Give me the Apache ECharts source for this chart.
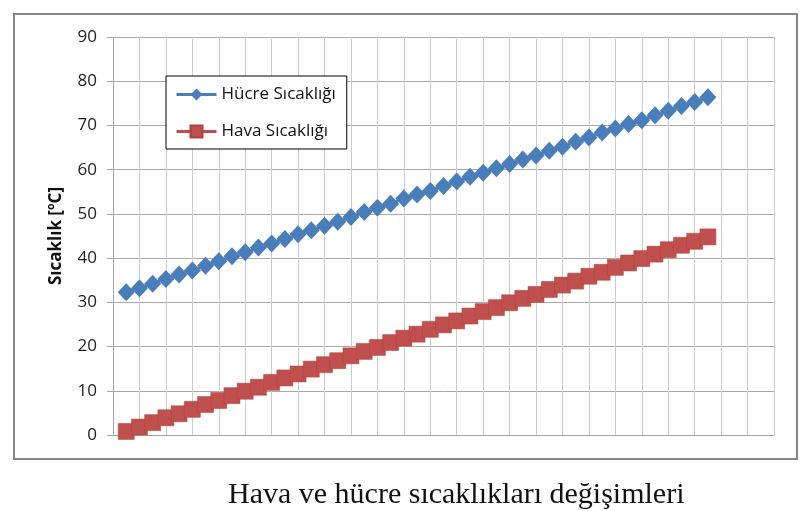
<!DOCTYPE html>
<html>
<head>
<meta charset="utf-8">
<script src="https://cdn.jsdelivr.net/npm/echarts@6/dist/echarts.min.js"></script>
<style>
  html, body { margin: 0; padding: 0; background: #fff; }
  #chart { width: 812px; height: 511px; }
</style>
</head>
<body>
<div id="chart"></div>
<script>
  // x positions of the readings (steps along the horizontal axis, 0..50)
  var steps = [1, 2, 3, 4, 5, 6, 7, 8, 9, 10, 11, 12, 13, 14, 15, 16, 17, 18, 19, 20,
    21, 22, 23, 24, 25, 26, 27, 28, 29, 30, 31, 32, 33, 34, 35, 36, 37, 38, 39, 40,
    41, 42, 43, 44, 45];

  // Hücre Sıcaklığı [°C]
  var hucre = [32.3, 33.2, 34.2, 35.3, 36.3, 37.2, 38.3, 39.3, 40.4, 41.3,
    42.4, 43.3, 44.3, 45.4, 46.3, 47.3, 48.2, 49.3, 50.4, 51.4,
    52.3, 53.5, 54.4, 55.2, 56.3, 57.3, 58.4, 59.3, 60.3, 61.3,
    62.3, 63.2, 64.3, 65.2, 66.3, 67.3, 68.4, 69.3, 70.3, 71.2,
    72.3, 73.3, 74.4, 75.3, 76.4];

  // Hava Sıcaklığı [°C]
  var hava = [0.8, 1.8, 2.8, 3.9, 4.8, 5.8, 6.9, 7.8, 8.9, 9.9,
    10.8, 11.9, 12.9, 13.8, 14.9, 15.9, 16.8, 17.9, 18.9, 19.8,
    20.9, 21.9, 22.8, 23.9, 24.9, 25.8, 26.9, 27.9, 28.8, 29.9,
    30.9, 31.8, 32.9, 33.9, 34.8, 35.9, 36.8, 37.9, 38.9, 39.9,
    40.9, 41.9, 42.9, 43.8, 44.8];

  var yTicks = [0, 10, 20, 30, 40, 50, 60, 70, 80, 90];

  function pairs(vals) {
    return vals.map(function (v, i) { return [steps[i], v]; });
  }

  var chart = echarts.init(document.getElementById("chart"), null, { renderer: "canvas" });

  chart.setOption({
    animation: false,
    backgroundColor: "#fff",
    textStyle: { fontFamily: "Open Sans" },
    title: {
      text: "Hava ve hücre sıcaklıkları değişimleri",
      left: 223,
      top: 475,
      textStyle: {
        fontFamily: "Liberation Serif",
        fontWeight: "normal",
        fontSize: 30,
        color: "#111"
      }
    },
    graphic: [{
      type: "rect",
      shape: { x: 14, y: 14, width: 783, height: 445 },
      style: { fill: "none", stroke: "#868686", lineWidth: 2 },
      silent: true
    }],
    grid: { left: 113, right: 38, top: 37, bottom: 76 },
    legend: {
      orient: "vertical",
      left: 166,
      top: 76,
      padding: [10, 11, 9, 9],
      itemWidth: 40,
      itemHeight: 15,
      itemGap: 20,
      borderColor: "#000",
      borderWidth: 1,
      backgroundColor: "#fff",
      lineStyle: { width: 3 },
      textStyle: { fontSize: 17, color: "#111", lineHeight: 17, fontFamily: "Open Sans" },
      data: ["Hücre Sıcaklığı", "Hava Sıcaklığı"]
    },
    xAxis: {
      type: "value",
      min: 0,
      max: 50,
      interval: 2,
      axisLabel: { show: false },
      axisTick: { show: false },
      axisLine: { show: true, lineStyle: { color: "#a6a6a6", width: 1 } },
      splitLine: { show: true, lineStyle: { color: "#cdcdcd", width: 1 } }
    },
    yAxis: {
      type: "value",
      min: yTicks[0],
      max: yTicks[yTicks.length - 1],
      interval: 10,
      name: "Sıcaklık [ºC]",
      nameLocation: "middle",
      nameGap: 48,
      nameTextStyle: { fontSize: 17, fontWeight: "bold", color: "#111", fontFamily: "Open Sans" },
      axisLine: { show: true, lineStyle: { color: "#a6a6a6", width: 1 } },
      axisTick: { show: true, length: 6, lineStyle: { color: "#a6a6a6" } },
      axisLabel: { fontSize: 17, color: "#222", margin: 16, fontFamily: "Open Sans" },
      splitLine: { show: true, lineStyle: { color: "#a9a9a9", width: 1 } }
    },
    series: [{
      name: "Hücre Sıcaklığı",
      type: "line",
      data: pairs(hucre),
      symbol: "diamond",
      symbolSize: [17, 18],
      showAllSymbol: true,
      lineStyle: { color: "#4a7ebb", width: 3 },
      itemStyle: { color: "#4a7ebb", borderWidth: 0 }
    }, {
      name: "Hava Sıcaklığı",
      type: "line",
      data: pairs(hava),
      symbol: "rect",
      symbolSize: 16,
      showAllSymbol: true,
      lineStyle: { color: "#c0504d", width: 3 },
      itemStyle: { color: "#c0504d", borderColor: "#b0403d", borderWidth: 0.5 }
    }]
  });
</script>
</body>
</html>
